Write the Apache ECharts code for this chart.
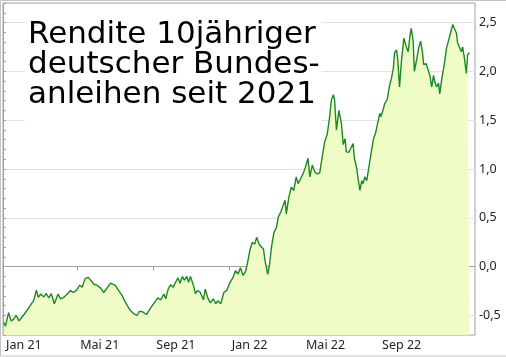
<!DOCTYPE html>
<html>
<head>
<meta charset="utf-8">
<script src="https://cdn.jsdelivr.net/npm/echarts@6/dist/echarts.min.js"></script>
<style>
html,body{margin:0;padding:0;background:#fff;}
#chart{width:506px;height:357px;}
</style>
</head>
<body>
<div id="chart"></div>
<script>
// Chart title
var titleText = 'Rendite 10jähriger\ndeutscher Bundes-\nanleihen seit 2021';

// x-axis tick dates (every 4 months) and labelled ticks
var tickDates = ['2021-01-01','2021-05-01','2021-09-01','2022-01-01','2022-05-01','2022-09-01','2023-01-01'];
var labelDates = ['2021-01-01','2021-05-01','2021-09-01','2022-01-01','2022-05-01','2022-09-01'];
var monthNames = ['Jan','Feb','Mär','Apr','Mai','Jun','Jul','Aug','Sep','Okt','Nov','Dez'];

// y-axis labelled values
var yLabelValues = [-0.5, 0, 0.5, 1, 1.5, 2, 2.5];

// Series: dates and yields (%)
var dates = [
'2021-01-02','2021-01-05','2021-01-10','2021-01-14','2021-01-18','2021-01-22','2021-01-27','2021-01-29',
'2021-02-04','2021-02-09','2021-02-14','2021-02-20','2021-02-24','2021-02-27','2021-03-03','2021-03-08',
'2021-03-12','2021-03-16','2021-03-20','2021-03-25','2021-03-31','2021-04-04','2021-04-09','2021-04-15',
'2021-04-20','2021-04-25','2021-04-30','2021-05-05','2021-05-09','2021-05-14','2021-05-19','2021-05-22',
'2021-05-28','2021-06-02','2021-06-08','2021-06-13','2021-06-18','2021-06-24','2021-06-27','2021-07-02',
'2021-07-07','2021-07-13','2021-07-15','2021-07-21','2021-07-26','2021-07-31','2021-08-06','2021-08-09',
'2021-08-14','2021-08-21','2021-08-25','2021-08-30','2021-09-05','2021-09-08','2021-09-13','2021-09-18',
'2021-09-21','2021-09-25','2021-09-29','2021-10-03','2021-10-07','2021-10-11','2021-10-14','2021-10-18',
'2021-10-21','2021-10-25','2021-10-28','2021-10-31','2021-11-05','2021-11-08','2021-11-12','2021-11-16',
'2021-11-21','2021-11-24','2021-11-28','2021-12-02','2021-12-07','2021-12-11','2021-12-14','2021-12-19',
'2021-12-24','2021-12-29','2022-01-03','2022-01-08','2022-01-12','2022-01-16','2022-01-20','2022-01-24',
'2022-01-28','2022-01-31','2022-02-04','2022-02-08','2022-02-12','2022-02-15','2022-02-19','2022-02-22',
'2022-02-26','2022-03-01','2022-03-05','2022-03-08','2022-03-11','2022-03-15','2022-03-19','2022-03-22',
'2022-03-26','2022-03-29','2022-04-02','2022-04-04','2022-04-08','2022-04-12','2022-04-16','2022-04-20',
'2022-04-23','2022-04-27','2022-05-01','2022-05-05','2022-05-09','2022-05-12','2022-05-16','2022-05-20',
'2022-05-24','2022-05-28','2022-06-01','2022-06-05','2022-06-09','2022-06-13','2022-06-16','2022-06-19',
'2022-06-21','2022-06-24','2022-06-28','2022-07-02','2022-07-05','2022-07-08','2022-07-10','2022-07-14',
'2022-07-17','2022-07-21','2022-07-23','2022-07-27','2022-07-29','2022-08-01','2022-08-04','2022-08-06',
'2022-08-09','2022-08-12','2022-08-15','2022-08-19','2022-08-23','2022-08-26','2022-08-30','2022-09-02',
'2022-09-04','2022-09-08','2022-09-10','2022-09-14','2022-09-18','2022-09-21','2022-09-24','2022-09-26',
'2022-09-29','2022-10-01','2022-10-04','2022-10-07','2022-10-11','2022-10-15','2022-10-18','2022-10-21',
'2022-10-23','2022-10-26','2022-10-28','2022-11-01','2022-11-04','2022-11-07','2022-11-10','2022-11-12',
'2022-11-16','2022-11-20','2022-11-22','2022-11-25','2022-11-28','2022-11-30','2022-12-03','2022-12-06',
'2022-12-08','2022-12-11','2022-12-14','2022-12-16','2022-12-19','2022-12-22','2022-12-24','2022-12-27',
'2022-12-29','2023-01-01','2023-01-04','2023-01-06','2023-01-09','2023-01-12','2023-01-14','2023-01-17',
'2023-01-20','2023-01-22','2023-01-25'
];
var yields = [
-0.57,-0.61,-0.47,-0.555,-0.54,-0.50,-0.555,-0.56,
-0.49,-0.445,-0.40,-0.34,-0.24,-0.315,-0.28,-0.31,
-0.275,-0.32,-0.275,-0.38,-0.28,-0.33,-0.315,-0.28,
-0.245,-0.265,-0.24,-0.19,-0.21,-0.12,-0.11,-0.125,
-0.18,-0.19,-0.22,-0.265,-0.22,-0.17,-0.16,-0.195,
-0.245,-0.30,-0.33,-0.40,-0.45,-0.48,-0.50,-0.46,
-0.46,-0.49,-0.45,-0.40,-0.35,-0.32,-0.34,-0.28,
-0.33,-0.23,-0.185,-0.21,-0.16,-0.115,-0.17,-0.10,
-0.14,-0.10,-0.16,-0.10,-0.195,-0.275,-0.245,-0.265,
-0.34,-0.23,-0.32,-0.37,-0.33,-0.38,-0.35,-0.38,
-0.265,-0.24,-0.16,-0.11,-0.04,-0.075,-0.01,-0.09,
-0.05,0.03,0.165,0.25,0.23,0.30,0.23,0.25,
0.18,0.045,-0.08,0.03,0.20,0.35,0.40,0.51,
0.56,0.61,0.68,0.54,0.71,0.815,0.78,0.92,
0.85,0.90,0.95,1.02,1.11,0.92,1.04,0.97,
0.95,0.96,1.125,1.28,1.35,1.535,1.71,1.76,
1.71,1.40,1.60,1.47,1.25,1.31,1.175,1.17,
1.21,1.26,1.11,1.00,0.90,0.78,0.88,0.85,
0.92,0.88,1.00,1.16,1.31,1.36,1.48,1.57,
1.535,1.62,1.67,1.71,1.86,1.93,2.03,2.19,
2.22,2.13,1.84,2.10,2.34,2.25,2.20,2.37,
2.44,2.31,2.00,2.13,2.24,2.31,2.20,2.07,
2.08,2.00,1.96,1.84,1.96,1.89,1.84,1.88,
1.77,1.91,1.91,2.10,2.24,2.31,2.36,2.37,
2.48,2.48,2.39,2.29,2.31,2.20,2.25,2.13,
1.98,2.17,2.19
];

var xMin = '2021-01-01';
var xMax = '2023-02-03';

// day number since start date (axis is a value axis in days)
function dayNum(s){var p=s.split('-');return Math.round(Date.UTC(+p[0],+p[1]-1,+p[2])/86400000);}
var day0 = dayNum(xMin);
function toX(s){return dayNum(s)-day0;}
function fromX(v){return new Date((v+day0)*86400000);}
var seriesData = dates.map(function(d,i){return [toX(d), yields[i]];});

var chart = echarts.init(document.getElementById('chart'), null, {renderer:'canvas'});
var gridColorCycle = ['rgba(0,0,0,0)','rgba(0,0,0,0)','#e2e2e2','rgba(0,0,0,0)','rgba(0,0,0,0)'];

chart.setOption({
  animation:false,
  backgroundColor:'#fff',
  title:{
    text:titleText,
    left:25, top:8,
    padding:[12,2,12,3],
    backgroundColor:'#fff',
    textStyle:{fontFamily:'DejaVu Sans',fontSize:31,fontWeight:'normal',lineHeight:30,color:'#000'}
  },
  grid:{left:3,right:31,top:3,bottom:22,show:true,borderColor:'#a0a0a0',borderWidth:1,backgroundColor:'transparent'},
  xAxis:{
    type:'value',
    min:0, max:toX(xMax),
    axisLine:{show:true,lineStyle:{color:'#a0a0a0'}},
    axisTick:{show:true,length:4,lineStyle:{color:'#a0a0a0'},customValues:tickDates.map(toX)},
    splitLine:{show:false},
    axisLabel:{
      customValues:labelDates.map(toX),
      align:'left', margin:4, padding:[0,0,0,3],
      fontFamily:'Noto Sans', fontSize:12.5, color:'#222',
      showMinLabel:true, showMaxLabel:true,
      formatter:function(v){var d=fromX(v);return monthNames[d.getUTCMonth()]+' '+String(d.getUTCFullYear()).slice(2);}
    }
  },
  yAxis:{
    type:'value', position:'right',
    min:-0.7, max:2.7, interval:0.1,
    axisLine:{show:true,lineStyle:{color:'#a0a0a0'}},
    axisTick:{show:true,length:3,lineStyle:{color:'#a0a0a0'}},
    splitLine:{show:true,lineStyle:{color:gridColorCycle,width:1}},
    axisLabel:{
      margin:4, fontFamily:'Noto Sans', fontSize:12.5, color:'#222',
      formatter:function(v){
        for(var i=0;i<yLabelValues.length;i++){ if(Math.abs(v-yLabelValues[i])<1e-6) return yLabelValues[i].toFixed(1).replace('.',','); }
        return '';
      }
    }
  },
  series:[{
    type:'line',
    data:seriesData,
    showSymbol:false,
    symbol:'none',
    lineStyle:{color:'#1c8a20',width:1.4},
    areaStyle:{color:'#effcc6',opacity:1,origin:'start'},
    z:2
  }],
  graphic:[{
    type:'rect', silent:true, z:100,
    shape:{x:0.5,y:0.5,width:600,height:355.5},
    style:{fill:'none',stroke:'#c4c4c4',lineWidth:1}
  }]
});
</script>
</body>
</html>
